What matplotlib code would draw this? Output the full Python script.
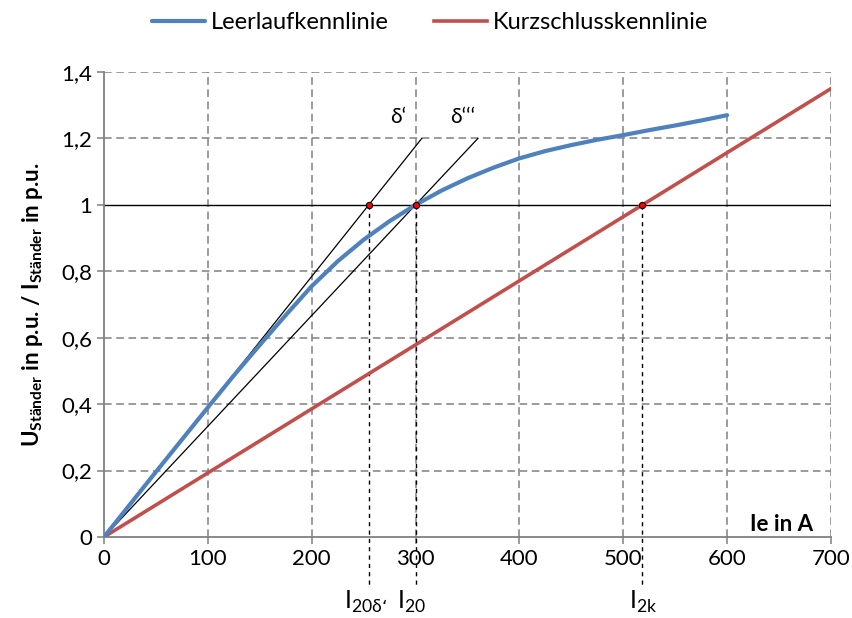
import numpy as np
import matplotlib
matplotlib.use("Agg")
import matplotlib.pyplot as plt

plt.rcParams['font.family'] = ['Lato', 'DejaVu Sans']

# Leerlaufkennlinie (alle 25 A)
ie_leer = [0, 25, 50, 75, 100, 125, 150, 175, 200, 225, 250, 275, 300,
           325, 350, 375, 400, 425, 450, 475, 500, 525, 550, 575, 600]
u_leer = [0, 0.098, 0.196, 0.293, 0.39, 0.486, 0.578, 0.668, 0.755, 0.83, 0.895, 0.951, 1.0,
          1.043, 1.08, 1.112, 1.14, 1.162, 1.18, 1.196, 1.21, 1.225, 1.239, 1.254, 1.27]

# Kurzschlusskennlinie
ie_kurz = [0, 700]
i_kurz = [0, 1.35]

# Schnittpunkte bei 1 p.u.
i20_delta = 255
i20 = 300
i2k = 518

x_ticks = [0, 100, 200, 300, 400, 500, 600, 700]
y_ticks = [0, 0.2, 0.4, 0.6, 0.8, 1.0, 1.2, 1.4]
y_labels = ['0', '0,2', '0,4', '0,6', '0,8', '1', '1,2', '1,4']

fig = plt.figure(figsize=(8.53, 6.18), dpi=100)
ax = fig.add_axes([0.1219, 0.1311, 0.8523, 0.7524])

grid_col = '#808080'
for x in x_ticks[1:]:
    ax.axvline(x, color=grid_col, ls=(0, (5, 3)), lw=1.1, zorder=0)
for y in y_ticks[1:]:
    if y != 1.0:
        ax.axhline(y, color=grid_col, ls=(0, (5, 3)), lw=1.1, zorder=0)
ax.axhline(1.0, color='black', lw=1.0, zorder=1)

# Luftspaltgeraden
for xs, yend in [(i20_delta, 1.2), (i20, 1.2)]:
    ax.plot([0, xs * yend], [0, yend], color='black', lw=0.9, zorder=2)

l1, = ax.plot(ie_kurz, i_kurz, color='#c0504d', lw=2.6, zorder=3, label='Kurzschlusskennlinie')
l0, = ax.plot(ie_leer, u_leer, color='#4f81bd', lw=3, zorder=4, label='Leerlaufkennlinie',
              solid_capstyle='round')

# vertikale Hilfslinien
for xv in [i20_delta, i20, i2k]:
    ax.plot([xv, xv], [1.0, -0.145], color='black', lw=1, ls=(0, (3, 3)),
            zorder=2, clip_on=False)
    ax.plot([xv], [1.0], 'o', ms=4.5, mfc='red', mec='black', mew=0.8, zorder=6)

ax.text(283, 1.235, 'δ‘', fontsize=15, ha='center', va='bottom')
ax.text(345, 1.235, 'δ‘‘‘', fontsize=15, ha='center', va='bottom')

ax.text(i20_delta - 3, -0.155, r'I$_{\mathregular{20δ‘}}$', fontsize=18, ha='center', va='top')
ax.text(i20 - 4, -0.155, r'I$_{\mathregular{20}}$', fontsize=18, ha='center', va='top')
ax.text(i2k + 1, -0.155, r'I$_{\mathregular{2k}}$', fontsize=18, ha='center', va='top')

ax.text(683, 0.018, 'Ie in A', fontsize=16, fontweight='bold', ha='right', va='baseline')

ax.set_xlim(0, 700)
ax.set_ylim(0, 1.4)
ax.set_xticks(x_ticks)
ax.set_yticks(y_ticks)
ax.set_yticklabels(y_labels)
ax.tick_params(axis='both', labelsize=16, color=grid_col, length=5, width=1.1, direction='out')
for s in ['top', 'right']:
    ax.spines[s].set_visible(False)
for s in ['left', 'bottom']:
    ax.spines[s].set_color(grid_col)
    ax.spines[s].set_linewidth(1.3)

ax.set_ylabel(r'U$_{\mathregular{Ständer}}$ in p.u. / I$_{\mathregular{Ständer}}$ in p.u.',
              fontsize=16, fontweight='bold', labelpad=12)

fig.legend(handles=[l0, l1], loc='upper center', bbox_to_anchor=(0.504, 1.015), ncol=2,
           frameon=False, fontsize=17, handlelength=2.25, handletextpad=0.25,
           columnspacing=1.9)

fig.savefig('out.png', dpi=100)
